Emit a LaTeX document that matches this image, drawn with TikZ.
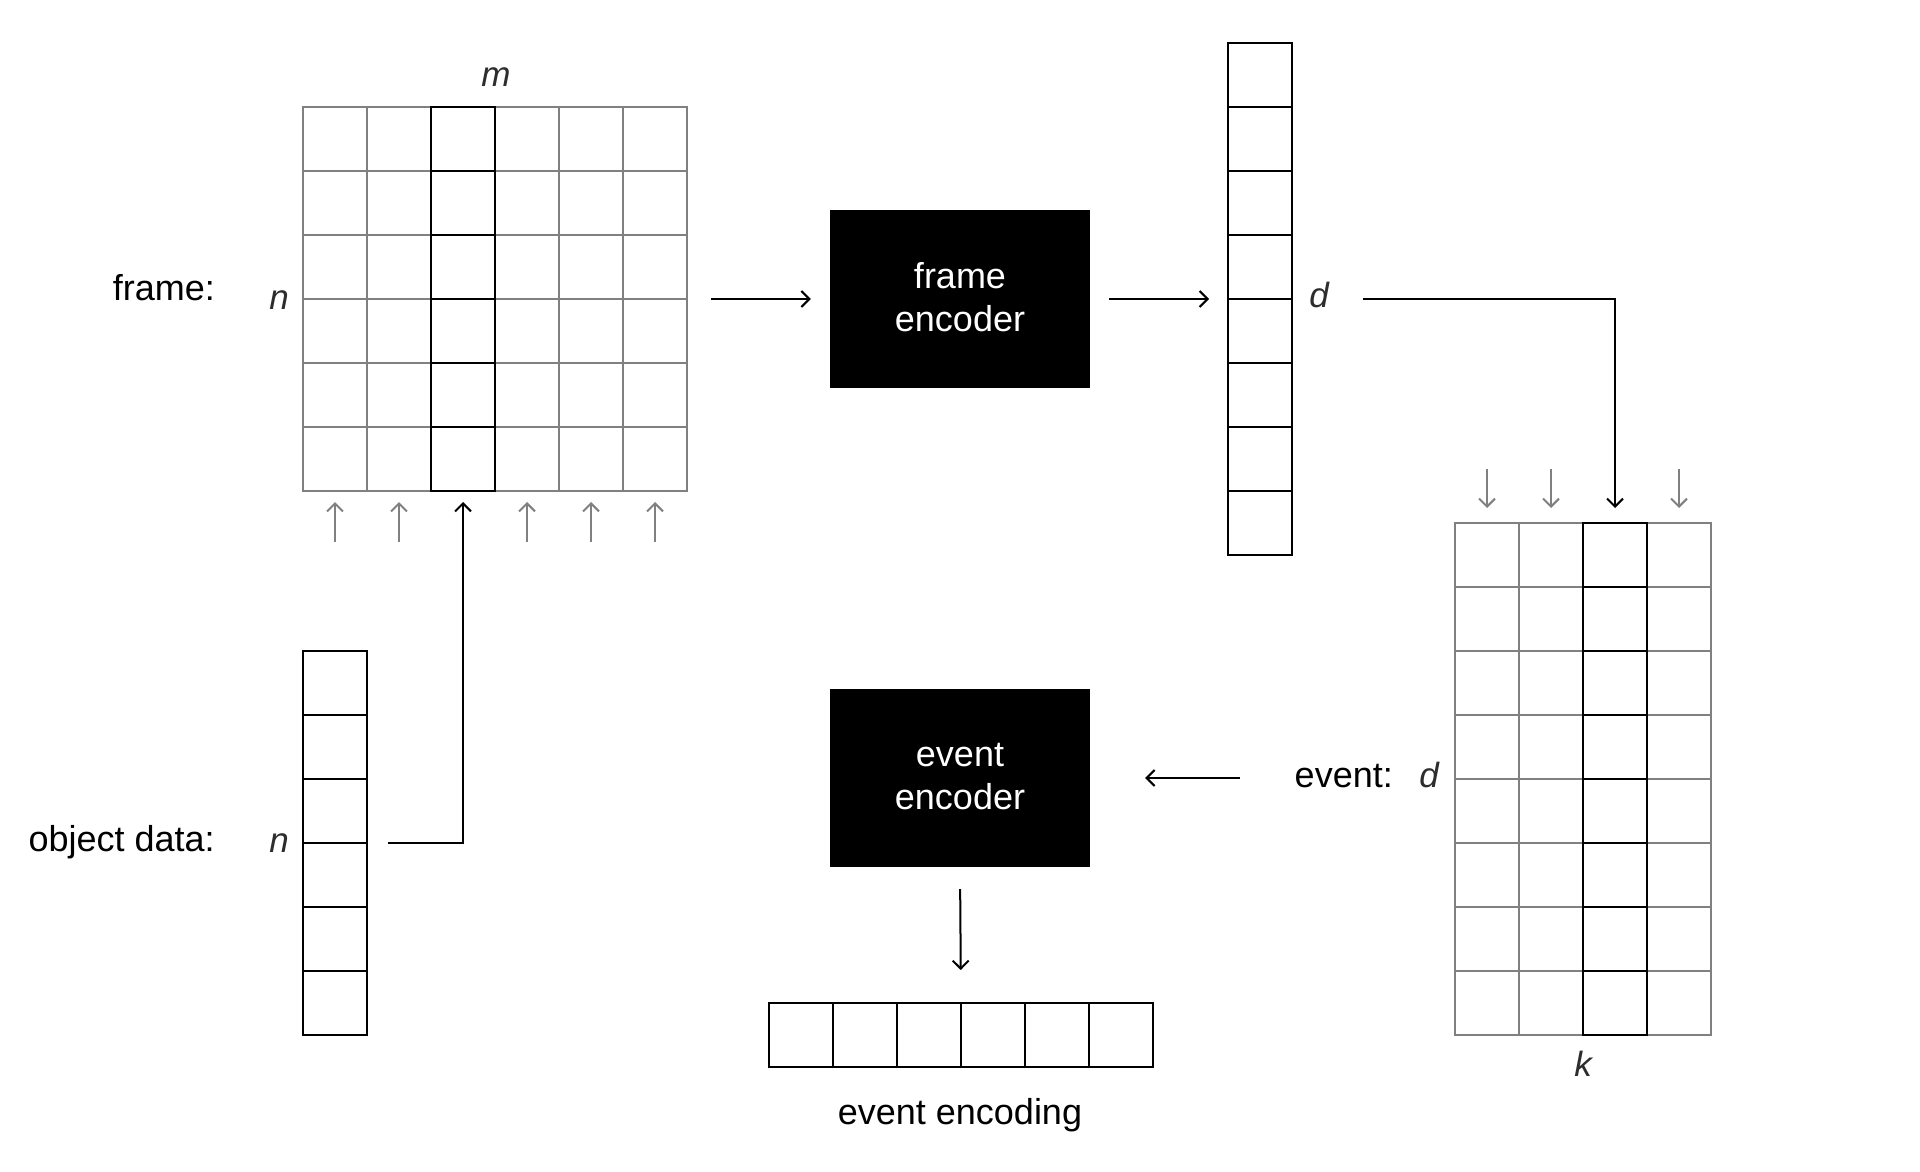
\documentclass[tikz,border=0pt]{standalone}
\usepackage{fontspec}
\setmainfont{Liberation Sans}
\usetikzlibrary{arrows.meta,calc}
\definecolor{gridgray}{RGB}{128,128,128}
\definecolor{vartext}{RGB}{45,45,45}
\newcommand\cellgrid[4]{%
  \foreach \i in {0,...,#2} \draw[#4] ($(#1.north west)+(\i*64,0)$) -- ($(#1.south west)+(\i*64,0)$);
  \foreach \j in {0,...,#3} \draw[#4] ($(#1.north west)+(0,\j*64)$) -- ($(#1.north east)+(0,\j*64)$);
}
\begin{document}
\begin{tikzpicture}[x=1pt,y=-1pt,
  holder/.style={draw=none, inner sep=0pt, outer sep=0pt, minimum width=#1},
  grayline/.style={draw=gridgray, line width=2pt, line cap=rect},
  blackline/.style={draw=black, line width=2.6pt, line cap=rect},
  conn/.style={draw=black, line width=2pt, -{Straight Barb[length=8pt,width=16pt]}},
  grayconn/.style={conn, draw=gridgray},
  encbox/.style={fill=black, text=white, minimum width=260pt, minimum height=178pt, align=center, inner sep=0pt, font=\fontsize{36}{43}\selectfont},
  lbl/.style={inner sep=0pt, font=\fontsize{36}{43}\selectfont},
  varlbl/.style={inner sep=0pt, text=vartext, font=\fontsize{35}{43}\selectfont\itshape}
]
\path[use as bounding box, fill=white] (0,0) rectangle (1920,1172);

% frame grid
\node[holder=384pt, minimum height=384pt] (frame) at (495,299) {};
\node[holder=64pt, minimum height=384pt] (fcol) at (463,299) {};
\cellgrid{frame}{6}{6}{grayline}
\cellgrid{fcol}{1}{6}{blackline}

% frame labels
\node[lbl, anchor=base east] (framelbl) at (215,300) {frame:};
\node[varlbl, anchor=base] (fn) at (279,309) {n};
\node[varlbl, anchor=base] (fm) at (496,87) {m};

% frame encoder
\node[encbox, text depth=4pt] (fenc) at (960,299) {frame\\encoder};

% vector d
\node[holder=64pt, minimum height=512pt] (dvec) at (1260,299) {};
\cellgrid{dvec}{1}{8}{blackline}
\node[varlbl, anchor=base] (dlbl) at (1319,307) {d};

% event grid
\node[holder=256pt, minimum height=512pt] (egrid) at (1583,779) {};
\node[holder=64pt, minimum height=512pt] (ecol) at (1615,779) {};
\cellgrid{egrid}{4}{8}{grayline}
\cellgrid{ecol}{1}{8}{blackline}
\node[lbl, anchor=base east] (eventlbl) at (1393,787) {event:};
\node[varlbl, anchor=base] (edlbl) at (1429,787) {d};
\node[varlbl, anchor=base] (klbl) at (1583,1076) {k};

% event encoder
\node[encbox, text depth=4pt] (eenc) at (960,778) {event\\encoder};

% event encoding
\node[holder=384pt, minimum height=64pt] (evec) at (961,1035) {};
\cellgrid{evec}{6}{1}{blackline}
\node[lbl, anchor=base] (evlbl) at (960,1124) {event encoding};

% object data
\node[holder=64pt, minimum height=384pt] (ovec) at (335,843) {};
\cellgrid{ovec}{1}{6}{blackline}
\node[lbl, anchor=base east] (objlbl) at (215,851) {object data:};
\node[varlbl, anchor=base] (on) at (279,852) {n};

% connectors
\draw[conn, shorten <=24pt, shorten >=19pt] (frame.east) -- (fenc.west);
\draw[conn, shorten <=19pt, shorten >=19pt] (fenc.east) -- (dvec.west);
\draw[conn, shorten >=15pt] ($(dvec.east)+(71,0)$) -| (ecol.north);
\draw[conn, shorten >=55pt] ($(eenc.east)+(150,0)$) -- (eenc.east);
\draw[conn, shorten <=22pt, shorten >=33pt] (eenc.south) -- (evec.north);
\draw[conn, shorten >=11pt] ($(ovec.east)+(21,0)$) -| (fcol.south);

% gray arrows under the frame grid
\foreach \c in {0,1,3,4,5}
  \draw[grayconn] ($(frame.south west)+(\c*64+32,51)$) -- ($(frame.south west)+(\c*64+32,11)$);

% gray arrows above the event grid
\foreach \c in {0,1,3}
  \draw[grayconn] ($(egrid.north west)+(\c*64+32,-54)$) -- ($(egrid.north west)+(\c*64+32,-15)$);
\end{tikzpicture}
\end{document}
